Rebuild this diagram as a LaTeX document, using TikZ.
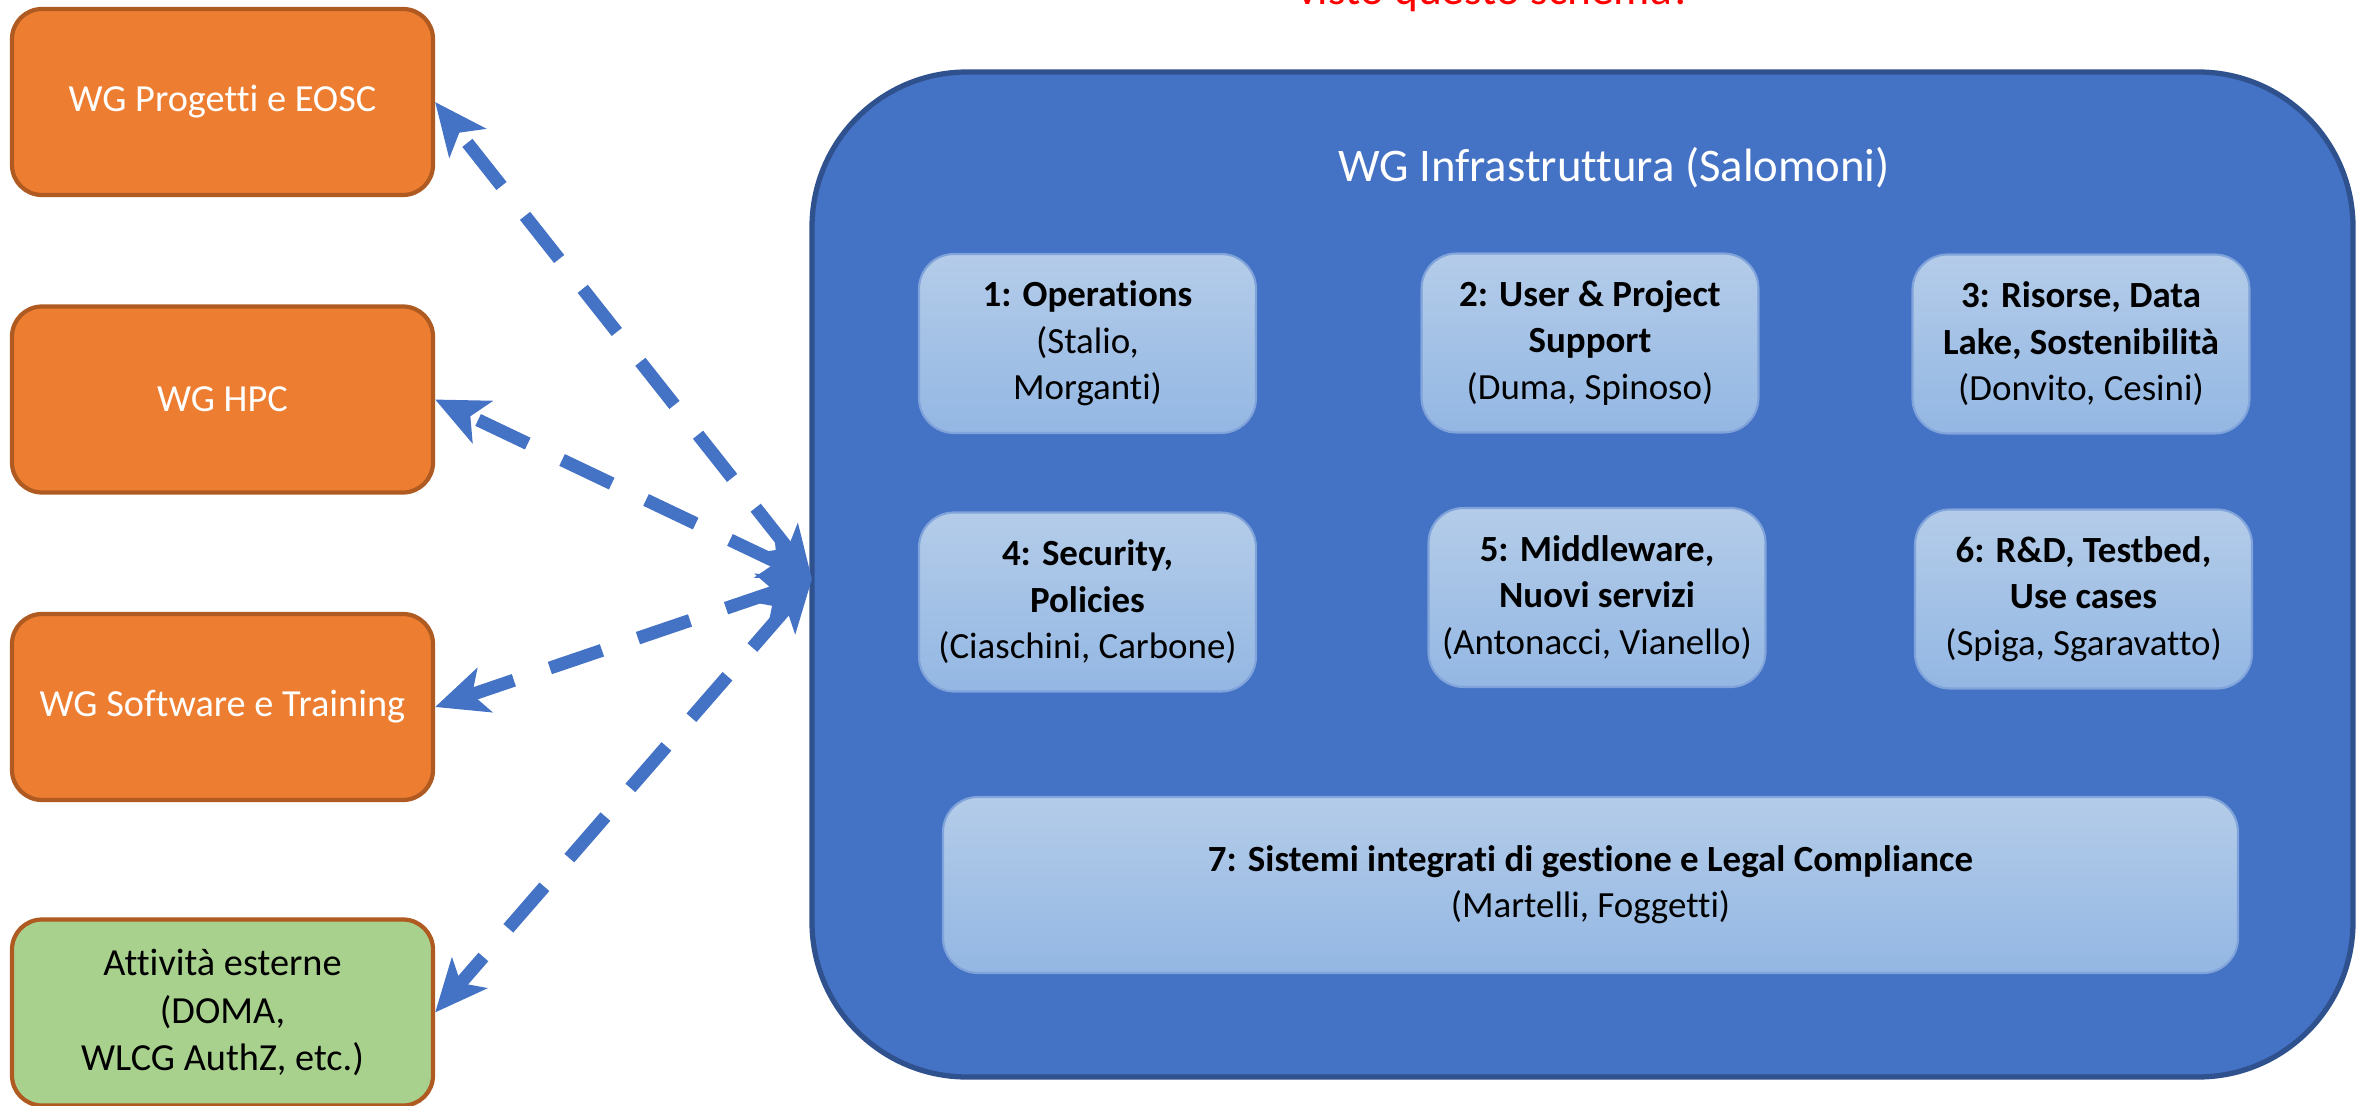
\documentclass[tikz,border=0pt]{standalone}
\usepackage{fontspec}
\setmainfont[Ligatures=CommonOff]{Carlito}
\usetikzlibrary{arrows.meta}

\definecolor{wgorange}{HTML}{ED7D31}
\definecolor{wgedge}{HTML}{AE5A21}
\definecolor{wggreen}{HTML}{A9D18E}
\definecolor{infrablue}{HTML}{4472C4}
\definecolor{infraedge}{HTML}{2F528F}
\definecolor{tasktop}{HTML}{B4CCE9}
\definecolor{taskbot}{HTML}{93B7E3}
\definecolor{taskedge}{HTML}{7FA3DA}

\begin{document}
\begin{tikzpicture}
	\tikzstyle{wg}=[rectangle,rounded corners=0.3cm,draw=wgedge,line width=1.2pt,fill=wgorange,text=white,minimum width=4.21cm,minimum height=1.86cm,align=center,font=\fontsize{10.9}{13.4}\selectfont]
	\tikzstyle{task}=[rectangle,rounded corners=0.35cm,draw=taskedge,line width=0.6pt,top color=tasktop,bottom color=taskbot,minimum width=3.37cm,minimum height=1.79cm,align=center,font=\fontsize{10.5}{13.2}\selectfont]
	\tikzstyle{link}=[draw=infrablue,line width=0.13cm,dash pattern=on 0.55cm off 0.38cm,{Stealth[length=0.52cm,width=0.46cm,inset=0.13cm]}-{Stealth[length=0.52cm,width=0.46cm,inset=0.13cm]}]
	\useasboundingbox (0,0) rectangle (23.58,-11.06);
	% testo tagliato in alto
	\node[anchor=base,text=red,font=\fontsize{12.9}{15}\selectfont] (note) at (14.95,-0.05) {visto questo schema?};
	% gruppi di lavoro a sinistra
	\node[wg] (wgp) at (2.225,-1.02) {WG Progetti e EOSC};
	\node[wg] (wghpc) at (2.225,-3.995) {WG HPC};
	\node[wg] (wgsw) at (2.225,-7.07) {WG Software e Training};
	\node[wg,fill=wggreen,text=black] (ext) at (2.225,-10.125) {Attività esterne\\(DOMA,\\WLCG AuthZ, etc.)};
	% WG Infrastruttura
	\node[rectangle,rounded corners=1.55cm,draw=infraedge,line width=1.5pt,fill=infrablue,minimum width=15.41cm,minimum height=10.05cm] (infra) at (15.825,-5.745) {};
	\node[text=white,font=\fontsize{13.3}{15}\selectfont] (title) at (16.14,-1.68) {WG Infrastruttura (Salomoni)};
	\node[task] (t1) at (10.875,-3.435) {\textbf{1: Operations}\\(Stalio,\\Morganti)};
	\node[task] (t2) at (15.90,-3.43) {\textbf{2: User \& Project}\\\textbf{Support}\\(Duma, Spinoso)};
	\node[task] (t3) at (20.81,-3.44) {\textbf{3: Risorse, Data}\\\textbf{Lake, Sostenibilità}\\(Donvito, Cesini)};
	\node[task] (t4) at (10.875,-6.02) {\textbf{4: Security,}\\\textbf{Policies}\\(Ciaschini, Carbone)};
	\node[task] (t5) at (15.97,-5.975) {\textbf{5: Middleware,}\\\textbf{Nuovi servizi}\\(Antonacci, Vianello)};
	\node[task] (t6) at (20.835,-5.99) {\textbf{6: R\&D, Testbed,}\\\textbf{Use cases}\\(Spiga, Sgaravatto)};
	\node[task,minimum width=12.95cm,minimum height=1.76cm] (t7) at (15.905,-8.85) {\textbf{7: Sistemi integrati di gestione e Legal Compliance}\\(Martelli, Foggetti)};
	% frecce
	\coordinate (hub) at (8.12,-5.79);
	\draw[link] (hub) -- (wgp.east);
	\draw[link] (hub) -- (wghpc.east);
	\draw[link] (hub) -- (wgsw.east);
	\draw[link] (hub) -- (ext.east);
\end{tikzpicture}
\end{document}
